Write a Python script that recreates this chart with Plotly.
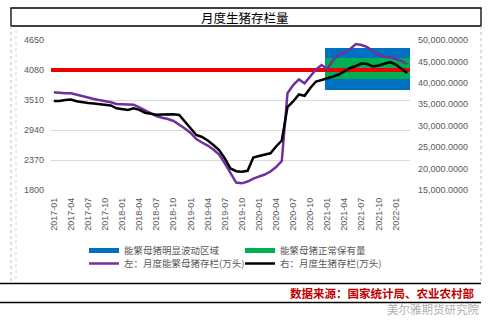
import plotly.graph_objects as go

# ---------------- data ----------------
months = [f"{y}-{m:02d}" for y in range(2017, 2023) for m in range(1, 13)][:63]  # 2017-01 .. 2022-03

sow = [3656, 3643, 3637, 3637, 3615, 3592, 3557, 3529, 3506, 3497,
       3468, 3434, 3430, 3426, 3421, 3368, 3310, 3253, 3206, 3172,
       3149, 3111, 3045, 2968, 2883, 2769, 2702, 2645, 2569, 2474,
       2307, 2123, 1942, 1927, 1961, 2018, 2056, 2094, 2151, 2237,
       2351, 3640, 3795, 3900, 3827, 3966, 4090, 4175, 4099, 4270,
       4365, 4422, 4479, 4574, 4555, 4517, 4441, 4365, 4327, 4327,
       4289, 4251, 4194]

hogs = [35767, 35767, 36000, 36117, 35700, 35417, 35300, 35183, 35067, 35000,
        34717, 34063, 33783, 33667, 34063, 33713, 33037, 32733, 32570, 32617,
        32660, 32660, 32500, 30933, 29233, 27833, 27367, 26550, 25500, 24333,
        22350, 20017, 19387, 19270, 19480, 22583, 22933, 23283, 23563, 25150,
        26550, 34367, 35650, 37283, 36980, 38800, 40317, 40667, 41017, 41483,
        41950, 42767, 43467, 43933, 44517, 44400, 43817, 44050, 44400, 44867,
        44283, 43350, 42300]

band_start = "2021-01"
blue_band = (3700, 4500)     # 能繁母猪明显波动区域
green_band = (3900, 4300)    # 能繁母猪正常保有量
red_level = 4080

left_ticks = [1800, 2370, 2940, 3510, 4080, 4650]
right_ticks = [15000, 20000, 25000, 30000, 35000, 40000, 45000, 50000]
tick_step = 3

# ---------------- geometry helpers ----------------
W, H = 495, 329
L, R, T, B = 51, 85, 40, 139
PW, PH = W - L - R, H - T - B


def fx(px):
    return (px - L) / PW


def fy(py):
    return (H - B - py) / PH


idx = list(range(len(months)))
bi = months.index(band_start)
band_x = idx[bi:]

FONT = "Liberation Sans, Arial, Noto Sans CJK SC"
CJK = "Noto Sans CJK SC, Liberation Sans"
GRAY = "#595959"

fig = go.Figure()

fig.add_trace(go.Bar(x=band_x, y=[blue_band[1] - blue_band[0]] * len(band_x), base=blue_band[0],
                     width=1, marker=dict(color="#0070c0", line_width=0), showlegend=False,
                     hoverinfo="skip"))
fig.add_trace(go.Bar(x=band_x, y=[green_band[1] - green_band[0]] * len(band_x), base=green_band[0],
                     width=1, marker=dict(color="#00b050", line_width=0), showlegend=False,
                     hoverinfo="skip"))
fig.add_trace(go.Scatter(x=[idx[0] - 0.5, idx[-1] + 0.5], y=[red_level, red_level], mode="lines",
                         line=dict(color="#ee0000", width=4), showlegend=False, hoverinfo="skip"))
fig.add_trace(go.Scatter(x=idx, y=sow, mode="lines", line=dict(color="#7030a0", width=2.5),
                         showlegend=False))
fig.add_trace(go.Scatter(x=idx, y=hogs, mode="lines", line=dict(color="#000000", width=2.5),
                         yaxis="y2", showlegend=False))

# legend entries
fig.add_trace(go.Scatter(x=[None], y=[None], mode="lines", line=dict(color="#0070c0", width=5),
                         name="能繁母猪明显波动区域", legend="legend"))
fig.add_trace(go.Scatter(x=[None], y=[None], mode="lines", line=dict(color="#00b050", width=5),
                         name="能繁母猪正常保有量", legend="legend"))
fig.add_trace(go.Scatter(x=[None], y=[None], mode="lines", line=dict(color="#7030a0", width=2.5),
                         name="左：月度能繁母猪存栏(万头)", legend="legend2"))
fig.add_trace(go.Scatter(x=[None], y=[None], mode="lines", line=dict(color="#000000", width=2.5),
                         name="右：月度生猪存栏(万头)", legend="legend2"))

legend_common = dict(orientation="h", xanchor="left", yanchor="middle", bgcolor="rgba(0,0,0,0)",
                     font=dict(family=CJK, size=9.5, color=GRAY), entrywidth=111,
                     entrywidthmode="pixels", itemwidth=30, tracegroupgap=0)

fig.update_layout(
    width=W, height=H, margin=dict(l=L, r=R, t=T, b=B),
    paper_bgcolor="white", plot_bgcolor="white",
    barmode="overlay", bargap=0,
    font=dict(family=FONT, size=9, color=GRAY),
    xaxis=dict(range=[idx[0] - 0.5, idx[-1] + 0.5], tickvals=idx[::tick_step],
               ticktext=months[::tick_step], tickangle=-90, showgrid=False, zeroline=False,
               ticks="", ticklabelstandoff=5, tickfont=dict(size=9, color=GRAY)),
    yaxis=dict(range=[left_ticks[0], left_ticks[-1]], tickvals=left_ticks, showgrid=True,
               gridcolor="#d9d9d9", gridwidth=1, zeroline=False, ticks="",
               ticklabelstandoff=6, tickfont=dict(size=9, color=GRAY)),
    yaxis2=dict(range=[right_ticks[0], right_ticks[-1]], tickvals=right_ticks, overlaying="y",
                side="right", showgrid=False, zeroline=False, tickformat=",.4f", ticks="",
                ticklabelstandoff=7, tickfont=dict(size=9, color=GRAY)),
    legend=dict(x=fx(84), y=fy(250.5), **legend_common),
    legend2=dict(x=fx(84), y=fy(263.5), **legend_common),
    showlegend=True,
)

shapes = [
    dict(type="rect", xref="paper", yref="paper", x0=fx(11), x1=fx(481), y0=fy(8), y1=fy(26),
         line=dict(color="black", width=1.3)),
    dict(type="line", xref="paper", yref="paper", x0=fx(11), x1=fx(11), y0=fy(26), y1=fy(283),
         line=dict(color="#bfbfbf", width=1, dash="dot")),
    dict(type="line", xref="paper", yref="paper", x0=fx(16), x1=fx(16), y0=fy(30), y1=fy(283),
         line=dict(color="#d9d9d9", width=1, dash="dot")),
    dict(type="line", xref="paper", yref="paper", x0=fx(481), x1=fx(481), y0=fy(26), y1=fy(283),
         line=dict(color="#bfbfbf", width=1, dash="dot")),
    dict(type="line", xref="paper", yref="paper", x0=fx(0), x1=fx(481), y0=fy(283.5), y1=fy(283.5),
         line=dict(color="black", width=1.3)),
    dict(type="line", xref="paper", yref="paper", x0=fx(0), x1=fx(481), y0=fy(302.5), y1=fy(302.5),
         line=dict(color="black", width=1.3)),
]
fig.update_layout(shapes=shapes)

fig.add_annotation(text="月度生猪存栏量", xref="paper", yref="paper", x=fx(245), y=fy(17),
                   xanchor="center", yanchor="middle", showarrow=False,
                   font=dict(family=CJK, size=12.5, color="black"))
fig.add_annotation(text="<b>数据来源：国家统计局、农业农村部</b>", xref="paper", yref="paper",
                   x=fx(476), y=fy(293), xanchor="right", yanchor="middle", showarrow=False,
                   font=dict(family=CJK, size=11.5, color="#c00000"))
fig.add_annotation(text="美尔雅期货研究院", xref="paper", yref="paper",
                   x=fx(481), y=fy(309), xanchor="right", yanchor="middle", showarrow=False,
                   font=dict(family=CJK, size=11.5, color="#b0b0b0"))

fig.write_html("out.html")
